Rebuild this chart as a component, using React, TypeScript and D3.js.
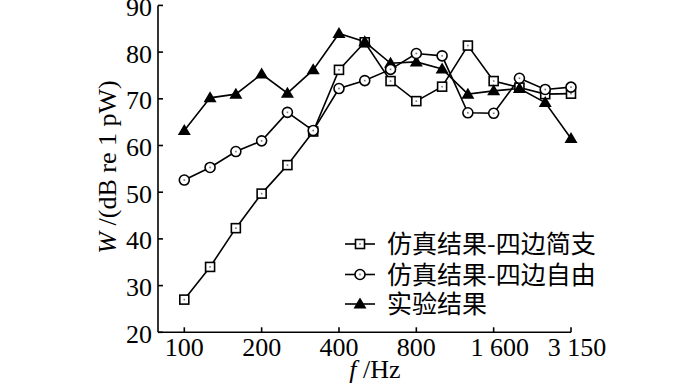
import React from "react";
import * as d3 from "d3";

const freqs = ["100","125","160","200","250","315","400","500","630","800","1000","1250","1600","2000","2500","3150"];
const tickLabels: Record<string, string> = { "100": "100", "200": "200", "400": "400", "800": "800", "1600": "1 600", "3150": "3 150" };
const yTicks = [20, 30, 40, 50, 60, 70, 80, 90];

const simplySupported = [27.0, 34.0, 42.3, 49.7, 55.8, 63.0, 76.2, 82.1, 73.8, 69.5, 72.6, 81.4, 73.8, 72.4, 71.0, 71.1];
const freeEdges = [52.6, 55.3, 58.7, 61.0, 67.1, 63.2, 72.2, 73.9, 76.3, 79.7, 79.2, 67.0, 66.9, 74.4, 72.0, 72.5];
const experiment = [63.2, 70.2, 71.0, 75.3, 71.2, 76.2, 84.0, 82.2, 77.6, 77.9, 76.4, 71.0, 71.7, 72.2, 69.2, 61.5];

const seriesNames = ["仿真结果-四边简支", "仿真结果-四边自由", "实验结果"];

const W = 700, H = 384;
const axisLeft = 158, axisBottom = 332.3, axisTop = 5.4, axisRight = 571;

export default function App() {
  const x = d3.scalePoint<string>().domain(freqs).range([184.3, 571]);
  const y = d3.scaleLinear().domain([20, 90]).range([axisBottom, axisTop]);
  const line = (vals: number[]) =>
    d3.line<number>().x((_, i) => x(freqs[i])!).y((v) => y(v))(vals) || "";

  const serif = "'Liberation Serif', 'DejaVu Serif', serif";
  const cjk = "'Noto Sans CJK SC', sans-serif";

  const square = (cx: number, cy: number, k: string) => (
    <g key={k}>
      <rect x={cx - 4.5} y={cy - 4.5} width={9} height={9} fill="#fff" stroke="#000" strokeWidth={1.6} />
      <rect x={cx - 0.8} y={cy - 0.8} width={1.6} height={1.6} fill="#777" />
    </g>
  );
  const circle = (cx: number, cy: number, k: string) => (
    <g key={k}>
      <circle cx={cx} cy={cy} r={5} fill="#fff" stroke="#000" strokeWidth={1.6} />
      <rect x={cx - 0.8} y={cy - 0.8} width={1.6} height={1.6} fill="#777" />
    </g>
  );
  const tri = (cx: number, cy: number, k: string) => (
    <path key={k} d={`M${cx},${cy - 6.5}L${cx + 6.5},${cy + 4.5}L${cx - 6.5},${cy + 4.5}Z`} fill="#000" />
  );

  const legendY = [244, 274.5, 304];
  const markers = [square, circle, tri];

  return (
    <svg width={W} height={H} style={{ position: "absolute", left: 0, top: 0, background: "#fff" }}>
      <rect width={W} height={H} fill="#fff" />
      {/* axes */}
      <line x1={axisLeft} y1={axisTop} x2={axisLeft} y2={axisBottom} stroke="#000" strokeWidth={1.6} />
      <line x1={axisLeft} y1={axisBottom} x2={axisRight} y2={axisBottom} stroke="#000" strokeWidth={1.6} />
      {yTicks.map((t) => (
        <g key={t}>
          <line x1={axisLeft} x2={axisLeft + 5} y1={y(t)} y2={y(t)} stroke="#000" strokeWidth={1.6} />
          <text x={152} y={y(t) + 10.5} textAnchor="end" fontFamily={serif} fontSize={26}>{t}</text>
        </g>
      ))}
      {freqs.filter((f) => tickLabels[f]).map((f) => (
        <g key={f}>
          <line x1={x(f)} x2={x(f)} y1={axisBottom} y2={axisBottom - 5} stroke="#000" strokeWidth={1.6} />
          <text x={x(f)! + (tickLabels[f].includes(" ") ? 6 : 0)} y={355.5} textAnchor="middle" fontFamily={serif} fontSize={26}>{tickLabels[f]}</text>
        </g>
      ))}
      <text x={375} y={378} textAnchor="middle" fontFamily={serif} fontSize={26}>
        <tspan fontStyle="italic">f</tspan> /Hz
      </text>
      <text transform="translate(116,167) rotate(-90)" textAnchor="middle" fontFamily={serif} fontSize={26}>
        <tspan fontStyle="italic">W</tspan> /(dB re 1 pW)
      </text>
      {/* lines */}
      {[simplySupported, freeEdges, experiment].map((s, i) => (
        <path key={i} d={line(s)} fill="none" stroke="#000" strokeWidth={1.6} />
      ))}
      {simplySupported.map((v, i) => square(x(freqs[i])!, y(v), "s" + i))}
      {experiment.map((v, i) => tri(x(freqs[i])!, y(v), "t" + i))}
      {freeEdges.map((v, i) => circle(x(freqs[i])!, y(v), "c" + i))}
      {/* legend */}
      {seriesNames.map((n, i) => (
        <g key={n}>
          <line x1={345} x2={375} y1={legendY[i]} y2={legendY[i]} stroke="#000" strokeWidth={1.6} />
          {markers[i](360, legendY[i], "l" + i)}
          <text x={387} y={legendY[i]} dy="0.36em" fontFamily={cjk} fontSize={25}>{n}</text>
        </g>
      ))}
    </svg>
  );
}
